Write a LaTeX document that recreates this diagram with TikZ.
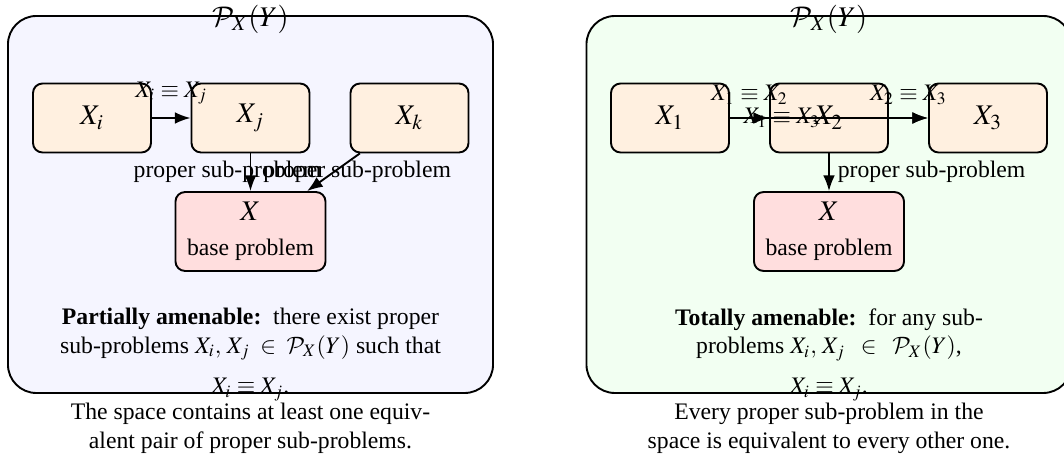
\documentclass[tikz,border=0pt]{standalone}
\usepackage{mathptmx}
\usepackage[no-math]{fontspec}
\setmainfont{Liberation Serif}
\DeclareMathAlphabet{\mathcal}{OMS}{cmsy}{m}{n}
\usetikzlibrary{positioning,arrows.meta}

\begin{document}
\begin{tikzpicture}[x=0.422pt, y=-0.422pt]
    \tikzset{frame/.style={rectangle, draw, thick, rounded corners=12pt, minimum width=204.7pt, minimum height=159.1pt}}
    \tikzset{subprob/.style={rectangle, draw, thick, fill=orange!12, rounded corners=4pt, minimum width=49.8pt, minimum height=29.1pt, font=\large}}
    \tikzset{baseprob/.style={rectangle, draw, thick, fill=red!13, rounded corners=4pt, minimum width=63.3pt, minimum height=33.3pt, align=center}}
    \tikzset{ttl/.style={font=\large, yshift=-1.7pt}}
    \tikzset{desc/.style={anchor=north, align=center}}
    \tikzset{line/.style={draw, -{Latex}, thick}}

    \useasboundingbox (0,0) rectangle (1064,457);

    % Partially amenable
    \node [frame, fill=blue!4] (frameL) at (250.5,204.5) {};
    \node [ttl] (ttlL) at (frameL.north) {$\mathcal{P}_X(Y)$};
    \node [subprob] (xi) at (92,118) {$X_i$};
    \node [subprob] (xj) at (250.5,118) {$X_j$};
    \node [subprob] (xk) at (409.5,118) {$X_k$};
    \node [baseprob] (baseL) at (250.5,231.5) {{\large $X$}\\[3pt] base problem};
    \node [desc] (descL) at (250.5,300) {\textbf{Partially amenable:}\ \ there exist proper\\ sub-problems $X_i,\, X_j \;\in\; \mathcal{P}_X(Y)$ such that\\[5pt] $X_i \equiv X_j$.};
    \node [desc] (capL) at (250.5,395) {The space contains at least one equiv-\\alent pair of proper sub-problems.};

    \path [line] (xi) -- node[above=2pt] {$X_i \equiv X_j$} (xj);
    \path [line] (xj) -- node[xshift=-9.7pt] {proper sub-problem} (baseL);
    \path [line] (xk) -- node[xshift=10pt] {proper sub-problem} (baseL);

    % Totally amenable
    \node [frame, fill=green!5] (frameR) at (829,204.5) {};
    \node [ttl] (ttlR) at (frameR.north) {$\mathcal{P}_X(Y)$};
    \node [subprob] (x1) at (670,118) {$X_1$};
    \node [subprob] (x2) at (829,118) {$X_2$};
    \node [subprob] (x3) at (988,118) {$X_3$};
    \node [baseprob] (baseR) at (829,231.5) {{\large $X$}\\[3pt] base problem};
    \node [desc] (descR) at (829,300) {\textbf{Totally amenable:}\ \ for any sub-\\ problems $X_i,\, X_j \;\;\in\;\; \mathcal{P}_X(Y)$,\\[5pt] $X_i \equiv X_j$.};
    \node [desc] (capR) at (829,395) {Every proper sub-problem in the\\space is equivalent to every other one.};

    \path [line] (x1) -- node[above=2pt] {$X_1 \equiv X_2$} (x2);
    \path [line] (x2) -- node[above=2pt] {$X_2 \equiv X_3$} (x3);
    \path [line] (x1) -- node[left] {$X_1 \equiv X_3$} (x3);
    \path [line] (x2) -- node[right] {proper sub-problem} (baseR);
\end{tikzpicture}
\end{document}
